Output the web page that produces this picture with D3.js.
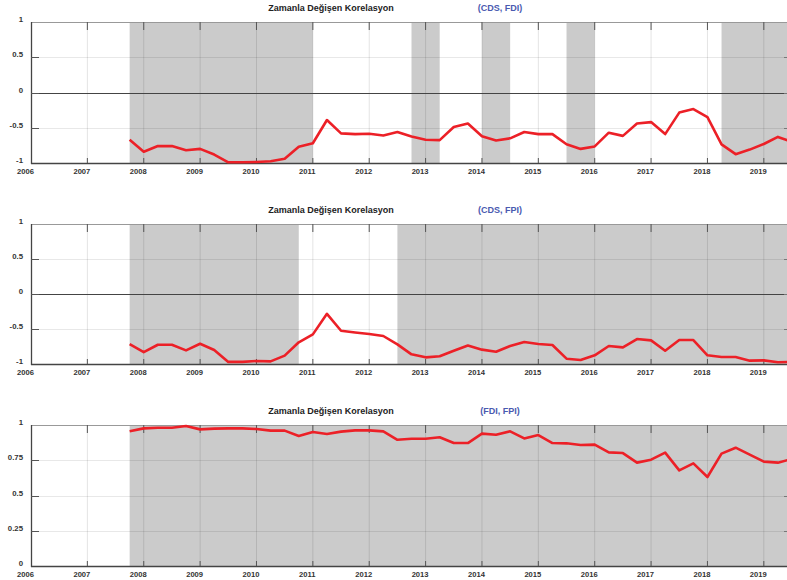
<!DOCTYPE html>
<html>
<head>
<meta charset="utf-8">
<script src="https://cdn.jsdelivr.net/npm/d3@7/dist/d3.min.js"></script>
<style>
  html, body { margin: 0; padding: 0; background: #fff; }
  svg { display: block; font-family: "Liberation Sans", Arial, sans-serif; }
</style>
</head>
<body>
<svg id="chart" width="787" height="580"></svg>
<script>
// Quarterly sample dates, 2007Q4 .. 2019Q3
const quarters = d3.range(0, 48).map(i => 2007.75 + i * 0.25);

const yearTicks = [2006, 2007, 2008, 2009, 2010, 2011, 2012, 2013, 2014, 2015, 2016, 2017, 2018, 2019];

const corrCdsFdi = [
  -0.67, -0.84, -0.76, -0.76, -0.82, -0.80, -0.88, -0.99,
  -0.99, -0.985, -0.975, -0.94, -0.77, -0.72, -0.39, -0.58,
  -0.59, -0.585, -0.61, -0.56, -0.625, -0.67, -0.675, -0.49,
  -0.44, -0.62, -0.68, -0.65, -0.56, -0.59, -0.59, -0.735,
  -0.80, -0.765, -0.57, -0.615, -0.44, -0.42, -0.59, -0.285,
  -0.235, -0.35, -0.735, -0.875, -0.81, -0.73, -0.63, -0.70
];

const corrCdsFpi = [
  -0.715, -0.83, -0.725, -0.725, -0.805, -0.71, -0.80, -0.97,
  -0.97, -0.957, -0.962, -0.88, -0.69, -0.577, -0.283, -0.525,
  -0.55, -0.572, -0.60, -0.72, -0.862, -0.905, -0.89, -0.81,
  -0.735, -0.795, -0.825, -0.743, -0.686, -0.715, -0.728, -0.924,
  -0.943, -0.876, -0.743, -0.762, -0.644, -0.663, -0.81, -0.658,
  -0.658, -0.876, -0.90, -0.90, -0.952, -0.948, -0.976, -0.97
];

const corrFdiFpi = [
  0.955, 0.976, 0.981, 0.981, 0.993, 0.969, 0.974, 0.976,
  0.976, 0.972, 0.96, 0.96, 0.922, 0.95, 0.936, 0.953,
  0.962, 0.962, 0.955, 0.895, 0.903, 0.903, 0.913, 0.872,
  0.872, 0.939, 0.931, 0.955, 0.905, 0.929, 0.872, 0.87,
  0.858, 0.861, 0.806, 0.801, 0.733, 0.754, 0.804, 0.678,
  0.728, 0.631, 0.797, 0.839, 0.79, 0.74, 0.733, 0.759
];

// Shaded periods [start, end] in fractional years
const shadeCdsFdi = [[2007.75, 2011.0], [2012.75, 2013.25], [2014.0, 2014.5], [2015.5, 2016.0], [2018.25, 2019.5]];
const shadeCdsFpi = [[2007.75, 2010.75], [2012.5, 2019.5]];
const shadeFdiFpi = [[2007.75, 2019.5]];

const titleText = "Zamanla Değişen Korelasyon";
const pairLabels = ["(CDS, FDI)", "(CDS, FPI)", "(FDI, FPI)"];

const yTicksSigned = [-1, -0.5, 0, 0.5, 1];
const yTicksUnit = [0, 0.25, 0.5, 0.75, 1];

const panels = [
  { top: 22, bottom: 163, values: corrCdsFdi, shade: shadeCdsFdi, domain: [-1, 1], ticks: yTicksSigned, label: pairLabels[0], zero: true },
  { top: 224, bottom: 364, values: corrCdsFpi, shade: shadeCdsFpi, domain: [-1, 1], ticks: yTicksSigned, label: pairLabels[1], zero: true },
  { top: 425, bottom: 566, values: corrFdiFpi, shade: shadeFdiFpi, domain: [0, 1], ticks: yTicksUnit, label: pairLabels[2], zero: false }
];

const svg = d3.select("#chart");
const left = 31, right = 792;
const x = d3.scaleLinear().domain([2006, 2019.5]).range([left, right]);

panels.forEach(p => {
  const y = d3.scaleLinear().domain(p.domain).range([p.bottom, p.top]);
  const g = svg.append("g");

  // recession-style shaded bands
  g.selectAll("rect.band").data(p.shade).enter().append("rect")
    .attr("x", d => x(d[0]))
    .attr("width", d => x(d[1]) - x(d[0]))
    .attr("y", p.top)
    .attr("height", p.bottom - p.top)
    .attr("fill", "#cbcbcb");

  // grid
  g.selectAll("line.vgrid").data(yearTicks.slice(1)).enter().append("line")
    .attr("x1", d => x(d)).attr("x2", d => x(d))
    .attr("y1", p.top).attr("y2", p.bottom)
    .attr("stroke", "rgba(0,0,0,0.11)").attr("stroke-width", 1);
  g.selectAll("line.hgrid").data(p.ticks.filter(t => t !== p.domain[0] && t !== p.domain[1])).enter().append("line")
    .attr("x1", left).attr("x2", right)
    .attr("y1", d => Math.round(y(d)) + 0.5).attr("y2", d => Math.round(y(d)) + 0.5)
    .attr("stroke", "rgba(0,0,0,0.09)").attr("stroke-width", 1);

  if (p.zero) {
    g.append("line")
      .attr("x1", left).attr("x2", right)
      .attr("y1", Math.round(y(0)) + 0.5).attr("y2", Math.round(y(0)) + 0.5)
      .attr("stroke", "#444").attr("stroke-width", 1.2);
  }

  // frame
  g.append("line").attr("x1", left).attr("x2", right)
    .attr("y1", p.top + 0.5).attr("y2", p.top + 0.5)
    .attr("stroke", "#999").attr("stroke-width", 1.2);
  g.append("line").attr("x1", left).attr("x2", right)
    .attr("y1", p.bottom + 0.5).attr("y2", p.bottom + 0.5)
    .attr("stroke", "#444").attr("stroke-width", 1.3);
  g.append("line").attr("x1", left + 0.5).attr("x2", left + 0.5)
    .attr("y1", p.top).attr("y2", p.bottom + 1)
    .attr("stroke", "#444").attr("stroke-width", 1.3);

  // bottom axis
  const xAxis = d3.axisBottom(x).tickValues(yearTicks).tickSize(0).tickFormat(d3.format("d"));
  const ax = g.append("g").attr("transform", `translate(0,${p.bottom})`).call(xAxis);
  ax.select(".domain").remove();
  ax.selectAll("text")
    .attr("dx", -6).attr("dy", 0).attr("y", 11)
    .attr("font-size", 7.6).attr("font-weight", "bold").attr("fill", "#333")
    .attr("font-family", "Liberation Sans, Arial, sans-serif");

  // year tick marks (top and bottom)
  g.selectAll("line.tt").data(yearTicks.slice(1)).enter().append("line")
    .attr("x1", d => x(d)).attr("x2", d => x(d))
    .attr("y1", p.top).attr("y2", p.top + 8)
    .attr("stroke", "#555").attr("stroke-width", 1);
  g.selectAll("line.tb").data(yearTicks.slice(1)).enter().append("line")
    .attr("x1", d => x(d)).attr("x2", d => x(d))
    .attr("y1", p.bottom).attr("y2", p.bottom - 5)
    .attr("stroke", "#555").attr("stroke-width", 1);

  // left axis
  const yAxis = d3.axisLeft(y).tickValues(p.ticks).tickSize(0).tickFormat(d => String(d));
  const ay = g.append("g").attr("transform", `translate(${left},0)`).call(yAxis);
  ay.select(".domain").remove();
  ay.selectAll("text")
    .attr("x", -8).attr("dy", "-0.05em")
    .attr("font-size", 7.8).attr("font-weight", "bold").attr("fill", "#333")
    .attr("font-family", "Liberation Sans, Arial, sans-serif");

  g.selectAll("line.tl").data(p.ticks.filter(t => t !== p.domain[0] && t !== p.domain[1])).enter().append("line")
    .attr("x1", left).attr("x2", left + 8)
    .attr("y1", d => Math.round(y(d)) + 0.5).attr("y2", d => Math.round(y(d)) + 0.5)
    .attr("stroke", "#555").attr("stroke-width", 1);
  g.selectAll("line.tr").data(p.ticks.filter(t => t !== p.domain[0] && t !== p.domain[1])).enter().append("line")
    .attr("x1", right - 8).attr("x2", right)
    .attr("y1", d => Math.round(y(d)) + 0.5).attr("y2", d => Math.round(y(d)) + 0.5)
    .attr("stroke", "#777").attr("stroke-width", 1);

  // correlation line
  const line = d3.line().x((d, i) => x(quarters[i])).y(d => y(d));
  g.append("path").datum(p.values)
    .attr("d", line)
    .attr("fill", "none")
    .attr("stroke", "#ec2027")
    .attr("stroke-width", 2.6)
    .attr("stroke-linejoin", "round");

  // titles
  g.append("text")
    .attr("x", 331).attr("y", p.top - 11)
    .attr("text-anchor", "middle")
    .attr("font-size", 9).attr("font-weight", "bold").attr("fill", "#222")
    .text(titleText);
  g.append("text")
    .attr("x", 500).attr("y", p.top - 11)
    .attr("text-anchor", "middle")
    .attr("font-size", 9).attr("font-weight", "bold").attr("fill", "#4a5ab0")
    .text(p.label);
});
</script>
</body>
</html>
